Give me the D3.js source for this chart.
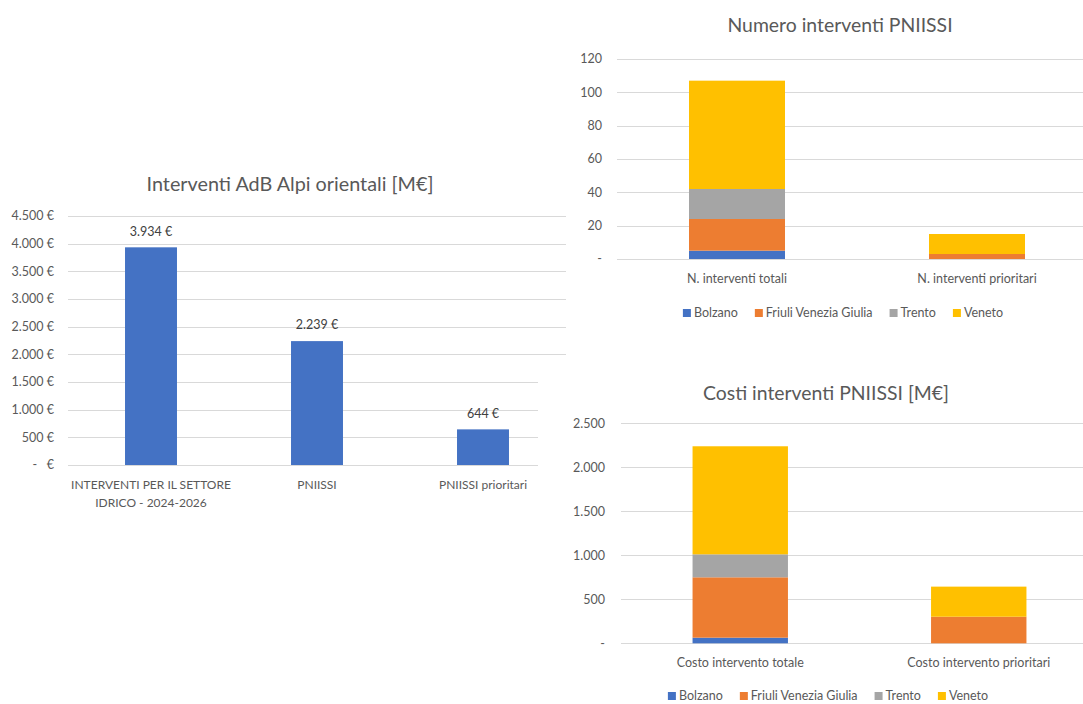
<!DOCTYPE html>
<html>
<head>
<meta charset="utf-8">
<script src="https://cdn.jsdelivr.net/npm/d3@7"></script>
<style>
  html, body { margin: 0; padding: 0; background: #fff; }
  svg { display: block; font-family: Lato, "Open Sans", sans-serif; }
  text { fill: #595959; }
</style>
</head>
<body>
<svg id="chart" width="1083" height="704"></svg>
<script>
// ---------- DATA ----------
const leftCategories = [["INTERVENTI PER IL SETTORE", "IDRICO - 2024-2026"], ["PNIISSI"], ["PNIISSI prioritari"]];
const leftValues = [3934, 2239, 644];
const leftTicks = [0, 500, 1000, 1500, 2000, 2500, 3000, 3500, 4000, 4500];

const regions = ["Bolzano", "Friuli Venezia Giulia", "Trento", "Veneto"];
const regionColors = ["#4472C4", "#ED7D31", "#A5A5A5", "#FFC000"];

const countCategories = ["N. interventi totali", "N. interventi prioritari"];
const countBolzano = [5, 0];
const countFriuli = [19, 3];
const countTrento = [18, 0];
const countVeneto = [65, 12];
const countTicks = [0, 20, 40, 60, 80, 100, 120];

const costCategories = ["Costo intervento totale", "Costo intervento prioritari"];
const costBolzano = [64, 0];
const costFriuli = [686, 302];
const costTrento = [261, 0];
const costVeneto = [1228, 342];
const costTicks = [0, 500, 1000, 1500, 2000, 2500];

// ---------- HELPERS ----------
const it = d3.formatLocale({decimal: ",", thousands: ".", grouping: [3], currency: ["", " €"]});
const fmtInt = it.format(",.0f");
const euro = v => v === 0 ? "-   €" : fmtInt(v) + " €";
const dashZero = v => v === 0 ? "-" : fmtInt(v);

const svg = d3.select("#chart");
const GRID = "#D9D9D9";

function gridAndAxis(g, y, ticks, x0, x1, fmt, labelX, fs) {
  g.append("g").selectAll("line").data(ticks).join("line")
    .attr("x1", x0).attr("x2", x1)
    .attr("y1", d => Math.round(y(d)) + 0.5).attr("y2", d => Math.round(y(d)) + 0.5)
    .attr("stroke", GRID).attr("stroke-width", 1);
  g.append("g").selectAll("text").data(ticks).join("text")
    .attr("x", labelX).attr("y", d => y(d)).attr("dy", "0.35em")
    .attr("text-anchor", "end").style("font-size", fs + "px")
    .style("white-space", "pre").attr("xml:space", "preserve")
    .text(fmt);
}

// ---------- LEFT CHART ----------
{
  const g = svg.append("g");
  const x = d3.scaleBand().domain(d3.range(leftValues.length)).range([68, 566])
    .paddingInner(0.687).paddingOuter(0.3435);
  const y = d3.scaleLinear().domain([0, 4500]).range([465, 216]);

  g.append("text").attr("x", 290).attr("y", 184).attr("dy", "0.35em")
    .attr("text-anchor", "middle").style("font-size", "19.8px")
    .text("Interventi AdB Alpi orientali [M€]");

  gridAndAxis(g, y, leftTicks, 68, 566, euro, 54, 12.5);

  g.append("g").selectAll("rect").data(leftValues).join("rect")
    .attr("x", (d, i) => x(i)).attr("width", x.bandwidth())
    .attr("y", d => y(d)).attr("height", d => y(0) - y(d))
    .attr("fill", "#4472C4");

  g.append("g").selectAll("text").data(leftValues).join("text")
    .attr("x", (d, i) => x(i) + x.bandwidth() / 2).attr("y", d => y(d) - 16)
    .attr("dy", "0.35em").attr("text-anchor", "middle").style("font-size", "12.5px")
    .style("fill", "#404040")
    .text(d => fmtInt(d) + " €");

  const cat = g.append("g").selectAll("text").data(leftCategories).join("text")
    .attr("text-anchor", "middle").style("font-size", "12px");
  cat.each(function(lines, i) {
    d3.select(this).selectAll("tspan").data(lines).join("tspan")
      .attr("x", x(i) + x.bandwidth() / 2)
      .attr("y", (l, j) => 485 + j * 18).attr("dy", "0.35em")
      .text(l => l);
  });
}

// cover for overlapping bottom-right panel
svg.append("rect").attr("x", 538).attr("y", 362).attr("width", 545).attr("height", 342).attr("fill", "#fff");

// ---------- STACKED CHART FUNCTION ----------
function stacked(opts) {
  const g = svg.append("g");
  const n = opts.categories.length;
  const rows = d3.range(n).map(i => {
    const o = {key: i};
    opts.series.forEach((s, k) => o[regions[k]] = s[i]);
    return o;
  });
  const stack = d3.stack().keys(regions)(rows);
  const x = d3.scaleBand().domain(d3.range(n)).range(opts.xRange).paddingInner(0.6).paddingOuter(0.3);
  const y = d3.scaleLinear().domain([0, opts.max]).range(opts.yRange);

  g.append("text").attr("x", opts.titleX).attr("y", opts.titleY).attr("dy", "0.35em")
    .attr("text-anchor", "middle").style("font-size", "19.4px").text(opts.title);

  gridAndAxis(g, y, opts.ticks, opts.gridX0, 1083, opts.fmt, opts.labelX, 12.5);

  g.append("g").selectAll("g").data(stack).join("g")
    .attr("fill", (d, k) => regionColors[k])
    .selectAll("rect").data(d => d).join("rect")
    .attr("x", (d, i) => x(i)).attr("width", x.bandwidth())
    .attr("y", d => y(d[1])).attr("height", d => y(d[0]) - y(d[1]));

  g.append("g").selectAll("text").data(opts.categories).join("text")
    .attr("x", (d, i) => x(i) + x.bandwidth() / 2).attr("y", opts.catY).attr("dy", "0.35em")
    .attr("text-anchor", "middle").style("font-size", "12.5px").text(d => d);

  // legend
  const lg = g.append("g");
  const items = lg.selectAll("g").data(regions).join("g");
  items.append("rect").attr("width", 8).attr("height", 8).attr("y", -4)
    .attr("fill", (d, k) => regionColors[k]);
  items.append("text").attr("x", 11).attr("dy", "0.35em").style("font-size", "12.5px").text(d => d);
  let cx = 0;
  items.each(function() {
    d3.select(this).attr("transform", `translate(${cx},0)`);
    cx += this.getBBox().width + 17;
  });
  const total = cx - 17;
  lg.attr("transform", `translate(${opts.legendCX - total / 2},${opts.legendY})`);
}

stacked({
  title: "Numero interventi PNIISSI", titleX: 840, titleY: 25,
  categories: countCategories,
  series: [countBolzano, countFriuli, countTrento, countVeneto],
  max: 120, ticks: countTicks, fmt: dashZero,
  xRange: [617, 1097], yRange: [259, 59], gridX0: 617, labelX: 602,
  catY: 279, legendY: 313, legendCX: 843
});

stacked({
  title: "Costi interventi PNIISSI [M€]", titleX: 826, titleY: 393,
  categories: costCategories,
  series: [costBolzano, costFriuli, costTrento, costVeneto],
  max: 2500, ticks: costTicks, fmt: dashZero,
  xRange: [621, 1098], yRange: [643.3, 423.3], gridX0: 621, labelX: 605,
  catY: 663, legendY: 696, legendCX: 828
});
</script>
</body>
</html>
